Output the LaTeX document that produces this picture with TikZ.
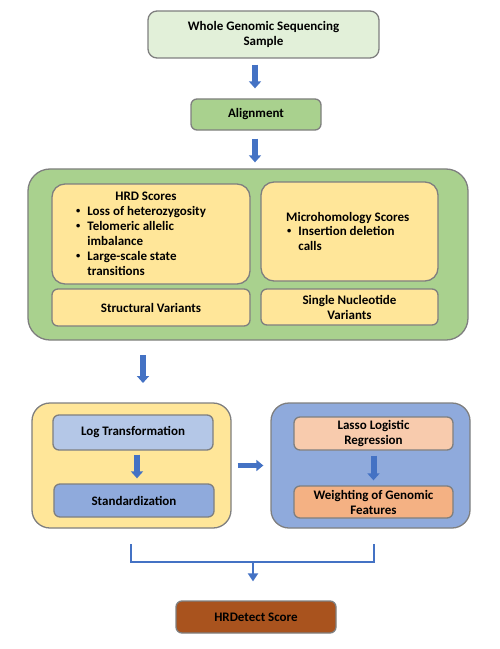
\documentclass[tikz,border=0pt]{standalone}
\usepackage{fontspec}
\setmainfont{Carlito}
\usetikzlibrary{arrows.meta,calc}
\definecolor{bordergray}{HTML}{7F7F7F}
\definecolor{lightgreen}{HTML}{E2F0D9}
\definecolor{midgreen}{HTML}{A9D18E}
\definecolor{paleyellow}{HTML}{FFE699}
\definecolor{paleblue}{HTML}{B4C7E7}
\definecolor{midblue}{HTML}{8FAADC}
\definecolor{palepeach}{HTML}{F8CBAD}
\definecolor{peach}{HTML}{F4B183}
\definecolor{rust}{HTML}{A9531E}
\definecolor{arrowblue}{HTML}{4472C4}
\newcommand{\smbul}{\raisebox{1.2bp}{\fontsize{8.5bp}{8.5bp}\selectfont\textbullet}}
\tikzset{
  boxbase/.style={draw=bordergray, line width=1.3bp, inner sep=0pt, font=\bfseries\fontsize{13bp}{15bp}\selectfont, align=center},
  rbox/.style={boxbase, rounded corners=9bp},
  bigbox/.style={draw=bordergray, line width=1.3bp, rounded corners=22bp, inner sep=0pt},
  bigarrow/.style={draw=arrowblue, line width=6bp, -{Triangle[width=12bp,length=7bp]}},
  thinline/.style={draw=arrowblue, line width=2.8bp},
  thinarrow/.style={draw=arrowblue, line width=2.8bp, -{Triangle[width=10bp,length=8bp]}},
  txt/.style={font=\bfseries\fontsize{13bp}{15bp}\selectfont, inner sep=0pt, align=left}
}
\begin{document}
\begin{tikzpicture}[x=1bp,y=-1bp]
\useasboundingbox (0,0) rectangle (500,649);
% top boxes
\node[rbox, fill=lightgreen, minimum width=231bp, minimum height=47bp] (wgs) at (263.5,34.5) {Whole Genomic Sequencing\\Sample};
\node[rbox, fill=midgreen, rounded corners=6bp, minimum width=130bp, minimum height=31bp] (align) at (256,114.5) {Alignment};
% big green container
\node[bigbox, fill=midgreen, minimum width=440bp, minimum height=171bp] (green) at (248,254.5) {};
\node[rbox, fill=paleyellow, rounded corners=13bp, minimum width=198bp, minimum height=100bp] (hrd) at (151,234) {};
\node[rbox, fill=paleyellow, rounded corners=13bp, minimum width=177bp, minimum height=99bp] (micro) at (349.5,231.5) {};
\node[rbox, fill=paleyellow, rounded corners=6bp, minimum width=198bp, minimum height=37bp] (sv) at (151,307.5) {Structural Variants};
\node[rbox, fill=paleyellow, rounded corners=6bp, minimum width=177bp, minimum height=36bp] (snv) at (349.5,307) {Single Nucleotide\\Variants};
% HRD text
\node[txt, anchor=base] (hrdtitle) at (146,200) {HRD Scores};
\node[txt, anchor=base west] (hrdlist) at (76,215) {%
\begin{tabular}[t]{@{}l@{\hspace{7bp}}l@{}}
\smbul & Loss of heterozygosity\\
\smbul & Telomeric allelic\\
 & imbalance\\
\smbul & Large-scale state\\
 & transitions
\end{tabular}};
% Micro text
\node[txt, anchor=base west] (microtitle) at (286,221) {Microhomology Scores};
\node[txt, anchor=base west] (microlist) at (287,235) {%
\begin{tabular}[t]{@{}l@{\hspace{7bp}}l@{}}
\smbul & Insertion deletion\\
 & calls
\end{tabular}};
% lower containers
\node[bigbox, fill=paleyellow, rounded corners=18bp, minimum width=199bp, minimum height=125bp] (yellow) at (131.5,465.5) {};
\node[rbox, fill=paleblue, rounded corners=6bp, minimum width=160bp, minimum height=35bp] (logt) at (133,432.5) {Log Transformation};
\node[rbox, fill=midblue, rounded corners=6bp, minimum width=160bp, minimum height=33bp] (stdz) at (134,500.5) {Standardization};
\node[bigbox, fill=midblue, rounded corners=18bp, minimum width=199bp, minimum height=125bp] (blue) at (370.5,465.5) {};
\node[rbox, fill=palepeach, rounded corners=6bp, minimum width=159bp, minimum height=33bp] (lasso) at (373.5,433.5) {Lasso Logistic\\Regression};
\node[rbox, fill=peach, rounded corners=6bp, minimum width=159bp, minimum height=32bp] (weight) at (373.5,502) {Weighting of Genomic\\Features};
% final box
\node[rbox, fill=rust, rounded corners=6bp, minimum width=160bp, minimum height=32bp] (hrdet) at (256,617) {HRDetect Score};
% arrows (shift values in picture pixels, y downward)
\draw[bigarrow] ([shift={(-8.5,6)}]wgs.south) -- ([shift={(-1,-10)}]align.north);
\draw[bigarrow] ([shift={(-1,8)}]align.south) -- ([shift={(7,-6)}]green.north);
\coordinate (a3s) at (143,355);
\coordinate (a3e) at (143,383);
\draw[bigarrow] (a3s) -- (a3e);
\draw[bigarrow] ([shift={(4,4)}]logt.south) -- ([shift={(3,-5)}]stdz.north);
\draw[bigarrow] ([shift={(0,5)}]lasso.south) -- ([shift={(0,-5)}]weight.north);
\draw[bigarrow, line width=5.5bp, -{Triangle[width=11bp,length=7bp]}] ([xshift=6bp]yellow.east) -- ([xshift=-7bp]blue.west);
% bracket
\coordinate (bl) at (131,544);
\coordinate (br) at (374,544);
\coordinate (bm) at (253,562);
\draw[thinline] (bl) |- (bm) -| (br);
\draw[thinarrow] (bm) -- ([shift={(-3,-19)}]hrdet.north);
\end{tikzpicture}
\end{document}
